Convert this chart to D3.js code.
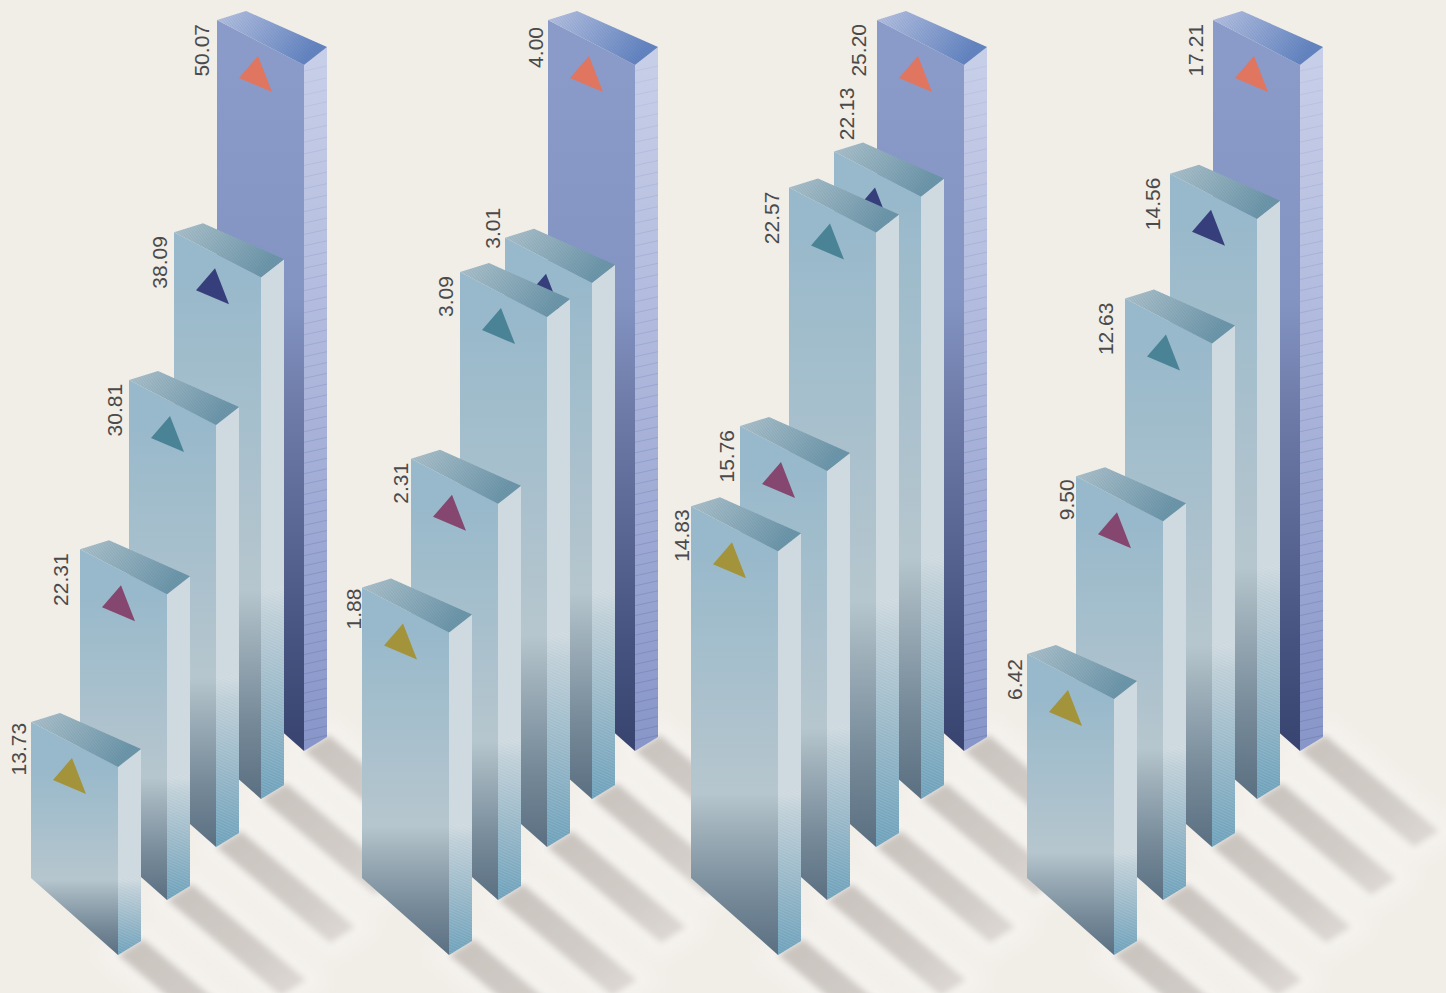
<!DOCTYPE html>
<html lang="en">
<head>
<meta charset="UTF-8">
<title>Isometric bars</title>
<script src="https://d3js.org/d3.v7.min.js"></script>
<style>
  html, body { margin: 0; padding: 0; background: #f1ede7; }
  svg { display: block; }
  text { font: 21px "Liberation Sans", sans-serif; fill: #4a4a4a; }
</style>
</head>
<body>
<div id="chart"></div>
<script type="text/javascript">
// values per block, tallest (rearmost) bar first
var blockA = [50.07, 38.09, 30.81, 22.31, 13.73];
var blockB = [4.00, 3.01, 3.09, 2.31, 1.88];
var blockC = [25.20, 22.13, 22.57, 15.76, 14.83];
var blockD = [17.21, 14.56, 12.63, 9.50, 6.42];
var blocks = [blockA, blockB, blockC, blockD];
var rows = [0, 1, 2, 3, 4];
var markerColors = ["#e07560", "#363f7b", "#4a8296", "#85476f", "#a3933a"];

var width = 1446, height = 993;

// right front corner of a bar: across the page by block and row, down the page by row
var blockX = d3.scaleOrdinal().domain(d3.range(blocks.length)).range([304, 635, 964, 1300]);
var rowX = d3.scaleOrdinal().domain(rows).range([0, -43, -88, -137, -186]);
var rowBase = d3.scaleOrdinal().domain(rows).range([751, 799, 847, 900, 955]);

var faceW = 87, sideW = 23, fullHeight = 686;
var format = d3.format(".2f");

// hand placed labels: gap from the bar's left edge; 3.01 and 22.13 sit higher up
var labelDx = [[-8, -7, -7, -12, -5], [-5, -5, -7, -3, -1], [-11, 20, -10, -6, -2], [-10, -10, -12, -2, -5]];
var labelDy = [[4, 4, 4, 4, 1], [7, -30, 4, 4, 1], [4, -64, 4, 4, 3], [4, 4, 4, 3, 5]];

var svg = d3.select("#chart").append("svg")
    .attr("width", width)
    .attr("height", height);

var defs = svg.append("defs");

function addGradient(id, stops, attrs) {
  var g = defs.append("linearGradient").attr("id", id);
  Object.keys(attrs).forEach(function(k) { g.attr(k, attrs[k]); });
  stops.forEach(function(s) {
    g.append("stop").attr("offset", s[0]).attr("stop-color", s[1]);
  });
}

addGradient("shadowFade", [[0, "#c9c3be"], [0.65, "#d2cdc8"], [1, "#dfdad5"]],
  {x1: 0, y1: 0, x2: 1, y2: 1});
addGradient("topLight", [[0, "#afc3cd"], [1, "#6d96aa"]], {x1: 0, y1: 0, x2: 1, y2: 0.35});
addGradient("topBlue", [[0, "#b9c3e3"], [1, "#6484c2"]], {x1: 0, y1: 0, x2: 1, y2: 0.35});

defs.append("filter").attr("id", "shadowBlur")
    .attr("x", "-30%").attr("y", "-30%").attr("width", "160%").attr("height", "160%")
  .append("feGaussianBlur").attr("stdDeviation", 3.2);
defs.append("filter").attr("id", "haloBlur")
    .attr("x", "-30%").attr("y", "-30%").attr("width", "160%").attr("height", "160%")
  .append("feGaussianBlur").attr("stdDeviation", 9);

// fine stripes over the lower part of the light side faces
var hatch = defs.append("pattern").attr("id", "sideHatch")
    .attr("patternUnits", "userSpaceOnUse")
    .attr("width", 8).attr("height", 2.6)
    .attr("patternTransform", "rotate(24)");
hatch.append("rect").attr("width", 8).attr("height", 1.2).attr("fill", "#fff").attr("fill-opacity", 0.13);

// same idea for the top faces, much tighter
var topHatch = defs.append("pattern").attr("id", "topHatch")
    .attr("patternUnits", "userSpaceOnUse")
    .attr("width", 2.2).attr("height", 6)
    .attr("patternTransform", "rotate(-38)");
topHatch.append("rect").attr("width", 1).attr("height", 6).attr("fill", "#2f5a72").attr("fill-opacity", 0.1);

function pts(list) {
  return list.map(function(p) { return p[0] + "," + p[1]; }).join(" ");
}

// flat list of bars, each with its own height scale per block
var bars = [];
blocks.forEach(function(values, b) {
  var y = d3.scaleLinear().domain([0, d3.max(values)]).range([0, fullHeight]);
  values.forEach(function(v, r) {
    var xr = blockX(b) + rowX(r), yb = rowBase(r), h = y(v);
    bars.push({block: b, row: r, value: v, xr: xr, xl: xr - faceW, yb: yb, h: h, yt: yb - h, id: "b" + b + "r" + r});
  });
});

// shadows go down first so every bar sits on top of them
var shadows = svg.append("g");
shadows.append("g").attr("filter", "url(#haloBlur)")
  .selectAll("polygon").data(bars).join("polygon")
    .attr("points", shadowPoints)
    .attr("fill", "#f5f3ef")
    .attr("stroke", "#f5f3ef")
    .attr("stroke-width", 30);
shadows.append("g").attr("filter", "url(#shadowBlur)")
  .selectAll("polygon").data(bars).join("polygon")
    .attr("points", shadowPoints)
    .attr("fill", "url(#shadowFade)");

function shadowPoints(d) {
  return pts([
    [d.xr, d.yb], [d.xr + sideW + 2, d.yb - 16],
    [d.xr + sideW + 2 + 114, d.yb - 16 + 96], [d.xr + 114, d.yb + 96]
  ]);
}

bars.forEach(function(d) {
  var rear = d.row === 0;

  addGradient("front-" + d.id, rear
    ? [[0, "#8a9bc9"], [0.34, "#8394c3"], [0.52, "#6c78a5"], [0.71, "#566290"], [0.84, "#465380"], [1, "#38446f"]]
    : [[0, "#98b9cb"], [0.6, "#b6c6ce"], [0.68, "#a0b1bb"], [0.85, "#768a99"], [1, "#5a6f81"]],
    {gradientUnits: "userSpaceOnUse", x1: 0, x2: 0, y1: d.yt, y2: d.yb});

  addGradient("side-" + d.id, rear
    ? [[0, "#c7cee8"], [0.5, "#aab4da"], [1, "#8795c8"]]
    : [[0, "#ccd8de"], [0.12, "#bccdd6"], [0.55, "#94b5c6"], [1, "#6a9fb9"]],
    {gradientUnits: "userSpaceOnUse", x1: 0, x2: 0,
     y1: rear ? d.yt : d.yb - d.h * 0.4, y2: d.yb});
});

var bar = svg.selectAll(".bar")
  .data(bars)
  .join("g")
    .attr("class", "bar");

bar.append("polygon")
    .attr("points", function(d) {
      return pts([[d.xl, d.yt - 45], [d.xr, d.yt], [d.xr, d.yb], [d.xl, d.yb - 77]]);
    })
    .attr("fill", function(d) { return "url(#front-" + d.id + ")"; });

// side face: rear bars shade all the way down, the others stay flat above 40% of their height
bar.append("polygon")
    .attr("points", function(d) {
      return pts([[d.xr, d.yt], [d.xr + sideW, d.yt - 18], [d.xr + sideW, d.yb - 14], [d.xr, d.yb]]);
    })
    .attr("fill", function(d) { return d.row === 0 ? "url(#side-" + d.id + ")" : "#cedae0"; });

var lower = bar.filter(function(d) { return d.row > 0; });
function lowerSide(d) {
  var yc = d.yb - d.h * 0.4;
  return pts([[d.xr, yc], [d.xr + sideW, yc - 5], [d.xr + sideW, d.yb - 14], [d.xr, d.yb]]);
}
lower.append("polygon").attr("points", lowerSide)
    .attr("fill", function(d) { return "url(#side-" + d.id + ")"; });
lower.append("polygon").attr("points", lowerSide).attr("fill", "url(#sideHatch)");

// slats on the rear bars' side faces, a little tighter towards the floor
bar.filter(function(d) { return d.row === 0; })
  .selectAll("line")
  .data(function(d) {
    var out = [], y = d.yt + 6;
    while (y < d.yb - 4) {
      out.push({x: d.xr, y: y});
      y += 12 - 2.7 * (y - d.yt) / d.h;
    }
    return out;
  })
  .join("line")
    .attr("x1", function(s) { return s.x; })
    .attr("x2", function(s) { return s.x + sideW; })
    .attr("y1", function(s) { return s.y; })
    .attr("y2", function(s) { return s.y - 5; })
    .attr("stroke", "#5f6fa8")
    .attr("stroke-opacity", function(s, i, nodes) { return 0.12 + 0.38 * i / nodes.length; })
    .attr("stroke-width", 0.8);

function topPoints(d) {
  return pts([[d.xl, d.yt - 45], [d.xl + 29, d.yt - 54], [d.xr + sideW, d.yt - 18], [d.xr, d.yt]]);
}
bar.append("polygon").attr("points", topPoints)
    .attr("fill", function(d) { return d.row === 0 ? "url(#topBlue)" : "url(#topLight)"; });
bar.append("polygon").attr("points", topPoints).attr("fill", "url(#topHatch)");

bar.append("polygon")
    .attr("points", function(d) {
      var x = d.xl, y = d.yt - 45;
      return pts([[x + 41, y + 36], [x + 22, y + 58], [x + 55, y + 72]]);
    })
    .attr("fill", function(d) { return markerColors[d.row]; });

// labels read upwards and stay on top of every bar
svg.append("g")
  .selectAll("text")
  .data(bars)
  .join("text")
    .attr("transform", function(d) {
      var x = d.xl + labelDx[d.block][d.row];
      var y = d.yt - 45 + labelDy[d.block][d.row];
      return "translate(" + x + "," + y + ") rotate(-90)";
    })
    .attr("text-anchor", "end")
    .text(function(d) { return format(d.value); });
</script>
</body>
</html>
